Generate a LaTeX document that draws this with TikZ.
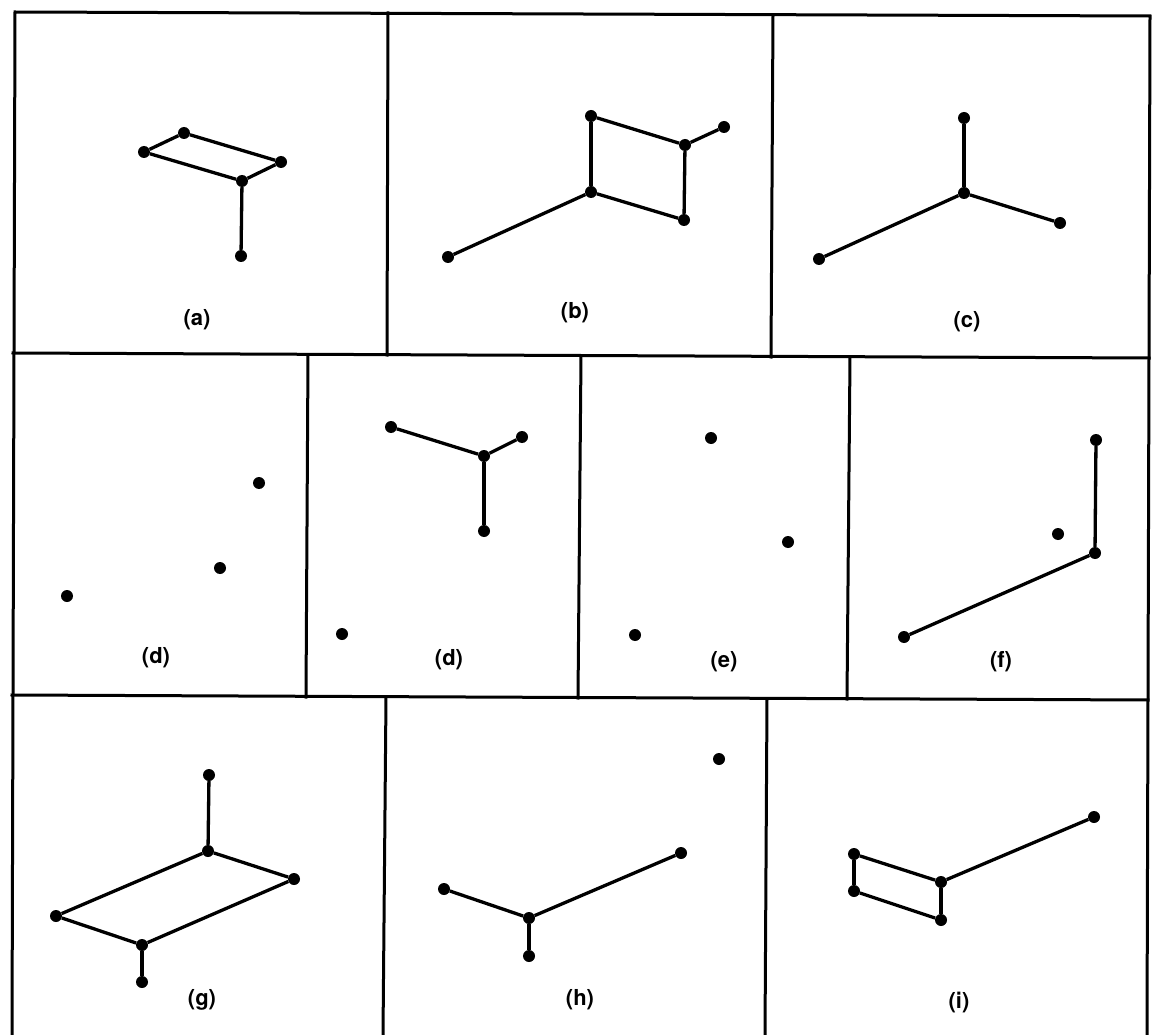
\documentclass[tikz,border=0pt]{standalone}
\usepackage{fontspec}
\setmainfont{TeX Gyre Heros}
\begin{document}
\begin{tikzpicture}[x=1pt,y=-1pt,
  dot/.style={circle,fill=black,inner sep=0pt,minimum size=12pt},
  edge/.style={line width=3.3pt},
  frame/.style={line width=3pt,line cap=rect},
  lab/.style={font=\bfseries\fontsize{22}{26}\selectfont,inner sep=0pt}]
\useasboundingbox (0,0) rectangle (1152,1035);
% ---------- frame ----------
\draw[frame] (12,1035) -- (15,12) -- (1150,16) -- (1147,1035);
\draw[frame] (13,353) -- (1149,358);
\draw[frame] (12,695) -- (1148,700);
\draw[frame] (388,13) -- (387,355);
\draw[frame] (773,15) -- (771,357);
\draw[frame] (308,355) -- (306,697);
\draw[frame] (581,356) -- (578,698);
\draw[frame] (850,357) -- (847,699);
\draw[frame] (386,697) -- (383,1035);
\draw[frame] (767,699) -- (765,1035);
% ---------- (a) ----------
\node[dot] (a1) at (144,152) {};
\node[dot] (a2) at (184,133) {};
\node[dot] (a3) at (281,162) {};
\node[dot] (a4) at (242,181) {};
\node[dot] (a5) at (241,256) {};
\draw[edge] (a1) -- (a2) -- (a3) -- (a4) -- (a1);
\draw[edge] (a4) -- (a5);
\node[lab] (la) at (197,320) {(a)};
% ---------- (b) ----------
\node[dot] (b1) at (591,116) {};
\node[dot] (b2) at (724,127) {};
\node[dot] (b3) at (685,145) {};
\node[dot] (b4) at (591,192) {};
\node[dot] (b5) at (684,220) {};
\node[dot] (b6) at (448,257) {};
\draw[edge] (b1) -- (b3);
\draw[edge] (b3) -- (b2);
\draw[edge] (b1) -- (b4);
\draw[edge] (b3) -- (b5);
\draw[edge] (b4) -- (b5);
\draw[edge] (b4) -- (b6);
\node[lab] (lb) at (575,313) {(b)};
% ---------- (c) ----------
\node[dot] (c1) at (964,118) {};
\node[dot] (c2) at (964,193) {};
\node[dot] (c3) at (1060,223) {};
\node[dot] (c4) at (819,259) {};
\draw[edge] (c1) -- (c2);
\draw[edge] (c2) -- (c3);
\draw[edge] (c2) -- (c4);
\node[lab] (lc) at (967,322) {(c)};
% ---------- (d) ----------
\node[dot] (d1) at (259,483) {};
\node[dot] (d2) at (220,568) {};
\node[dot] (d3) at (67,596) {};
\node[lab] (ld) at (156,658) {(d)};
% ---------- (d) second ----------
\node[dot] (e1) at (391,427) {};
\node[dot] (e2) at (522,437) {};
\node[dot] (e3) at (484,456) {};
\node[dot] (e4) at (484,531) {};
\node[dot] (e5) at (342,634) {};
\draw[edge] (e1) -- (e3);
\draw[edge] (e2) -- (e3);
\draw[edge] (e3) -- (e4);
\node[lab] (ld2) at (449,660) {(d)};
% ---------- (e) ----------
\node[dot] (f1) at (711,438) {};
\node[dot] (f2) at (788,542) {};
\node[dot] (f3) at (635,635) {};
\node[lab] (le) at (724,662) {(e)};
% ---------- (f) ----------
\node[dot] (g1) at (1096,440) {};
\node[dot] (g2) at (1058,534) {};
\node[dot] (g3) at (1095,553) {};
\node[dot] (g4) at (904,637) {};
\draw[edge] (g1) -- (g3);
\draw[edge] (g3) -- (g4);
\node[lab] (lf) at (1001,662) {(f)};
% ---------- (g) ----------
\node[dot] (h1) at (209,775) {};
\node[dot] (h2) at (208,851) {};
\node[dot] (h3) at (294,879) {};
\node[dot] (h4) at (56,916) {};
\node[dot] (h5) at (142,945) {};
\node[dot] (h6) at (142,982) {};
\draw[edge] (h1) -- (h2);
\draw[edge] (h2) -- (h3);
\draw[edge] (h2) -- (h4);
\draw[edge] (h3) -- (h5);
\draw[edge] (h4) -- (h5);
\draw[edge] (h5) -- (h6);
\node[lab] (lg) at (202,1000) {(g)};
% ---------- (h) ----------
\node[dot] (i1) at (719,759) {};
\node[dot] (i2) at (681,853) {};
\node[dot] (i3) at (444,889) {};
\node[dot] (i4) at (529,918) {};
\node[dot] (i5) at (529,956) {};
\draw[edge] (i2) -- (i4);
\draw[edge] (i3) -- (i4);
\draw[edge] (i4) -- (i5);
\node[lab] (lh) at (580,1000) {(h)};
% ---------- (i) ----------
\node[dot] (j1) at (1094,817) {};
\node[dot] (j2) at (854,854) {};
\node[dot] (j3) at (854,891) {};
\node[dot] (j4) at (941,882) {};
\node[dot] (j5) at (941,920) {};
\draw[edge] (j2) -- (j3);
\draw[edge] (j2) -- (j4);
\draw[edge] (j3) -- (j5);
\draw[edge] (j4) -- (j5);
\draw[edge] (j4) -- (j1);
\node[lab] (li) at (959,1002) {(i)};
\end{tikzpicture}
\end{document}
